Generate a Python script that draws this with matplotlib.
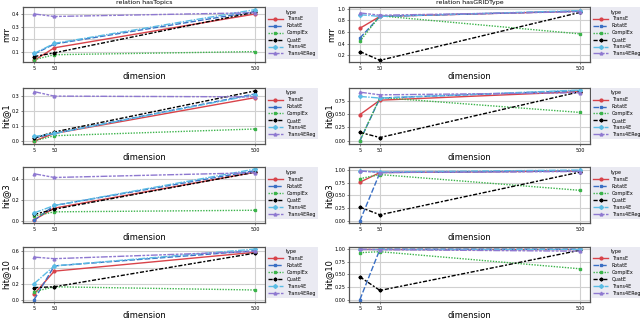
# -*- coding: utf-8 -*-
import matplotlib
matplotlib.use("Agg")
import matplotlib.pyplot as plt
import numpy as np

# data: dimension vs. metric, per model, two relations
DIMS = [5, 50, 500]
MODELS = ["TransE", "RotatE", "ComplEx", "QuatE", "Trans4E", "Trans4EReg"]
METRICS = ["mrr", "hit@1", "hit@3", "hit@10"]

# relation hasTopics
topics_mrr = {
    "TransE": [0.03, 0.13, 0.40],
    "RotatE": [0.08, 0.16, 0.42],
    "ComplEx": [0.035, 0.075, 0.10],
    "QuatE": [0.06, 0.09, 0.415],
    "Trans4E": [0.085, 0.165, 0.435],
    "Trans4EReg": [0.40, 0.38, 0.41],
}
topics_hit1 = {
    "TransE": [0.0, 0.05, 0.29],
    "RotatE": [0.02, 0.05, 0.315],
    "ComplEx": [0.0, 0.035, 0.08],
    "QuatE": [0.02, 0.06, 0.335],
    "Trans4E": [0.03, 0.05, 0.31],
    "Trans4EReg": [0.33, 0.30, 0.295],
}
topics_hit3 = {
    "TransE": [0.015, 0.125, 0.465],
    "RotatE": [0.01, 0.15, 0.48],
    "ComplEx": [0.05, 0.09, 0.105],
    "QuatE": [0.065, 0.115, 0.465],
    "Trans4E": [0.08, 0.15, 0.495],
    "Trans4EReg": [0.45, 0.415, 0.46],
}
topics_hit10 = {
    "TransE": [0.07, 0.355, 0.59],
    "RotatE": [0.0, 0.42, 0.61],
    "ComplEx": [0.10, 0.16, 0.12],
    "QuatE": [0.15, 0.16, 0.58],
    "Trans4E": [0.20, 0.42, 0.63],
    "Trans4EReg": [0.53, 0.51, 0.60],
}

# relation hasGRIDType
grid_mrr = {
    "TransE": [0.667, 0.87, 0.96],
    "RotatE": [0.50, 0.87, 0.96],
    "ComplEx": [0.445, 0.88, 0.57],
    "QuatE": [0.267, 0.117, 0.94],
    "Trans4E": [0.90, 0.87, 0.97],
    "Trans4EReg": [0.93, 0.89, 0.95],
}
grid_hit1 = {
    "TransE": [0.49, 0.76, 0.92],
    "RotatE": [0.0, 0.80, 0.94],
    "ComplEx": [0.0, 0.81, 0.53],
    "QuatE": [0.156, 0.06, 0.92],
    "Trans4E": [0.83, 0.80, 0.95],
    "Trans4EReg": [0.91, 0.86, 0.90],
}
grid_hit3 = {
    "TransE": [0.76, 0.95, 0.98],
    "RotatE": [0.0, 0.95, 0.98],
    "ComplEx": [0.83, 0.91, 0.60],
    "QuatE": [0.27, 0.12, 0.96],
    "Trans4E": [0.98, 0.96, 1.0],
    "Trans4EReg": [0.98, 0.95, 0.97],
}
grid_hit10 = {
    "TransE": [1.0, 1.0, 1.0],
    "RotatE": [0.0, 1.0, 1.0],
    "ComplEx": [0.93, 0.95, 0.61],
    "QuatE": [0.45, 0.18, 0.98],
    "Trans4E": [1.0, 1.0, 1.0],
    "Trans4EReg": [1.0, 0.99, 0.96],
}

COLORS = {
    "TransE": "#d8434a",
    "RotatE": "#3a6fc4",
    "ComplEx": "#3bb34a",
    "QuatE": "black",
    "Trans4E": "#5bbce4",
    "Trans4EReg": "#8e78d0",
}
MARKERS = {
    "TransE": "o",
    "RotatE": "s",
    "ComplEx": "s",
    "QuatE": "P",
    "Trans4E": "D",
    "Trans4EReg": "^",
}
DASHES = {
    "TransE": (None, None),
    "RotatE": (4, 1.5),
    "ComplEx": (1, 1),
    "QuatE": (3, 1.25, 1.5, 1.25),
    "Trans4E": (5, 1, 1, 1),
    "Trans4EReg": (5, 1, 2, 1, 2, 1),
}

ROWS = [(0.806, 0.172), (0.553, 0.174), (0.306, 0.174), (0.062, 0.172)]
COLS = [(0.036, 0.378), (0.545, 0.377)]

fig = plt.figure(figsize=(6.4, 3.22), dpi=100)

panels = [
    [topics_mrr, topics_hit1, topics_hit3, topics_hit10],
    [grid_mrr, grid_hit1, grid_hit3, grid_hit10],
]
titles = ["relation hasTopics", "relation hasGRIDType"]
yticks = [
    [[0.1, 0.2, 0.3, 0.4], [0.0, 0.1, 0.2, 0.3], [0.0, 0.2, 0.4], [0.0, 0.2, 0.4, 0.6]],
    [[0.2, 0.4, 0.6, 0.8, 1.0], [0.0, 0.25, 0.5, 0.75], [0.0, 0.25, 0.5, 0.75, 1.0],
     [0.0, 0.25, 0.5, 0.75, 1.0]],
]
ylims = [
    [(0.013, 0.455), (-0.02, 0.355), (-0.02, 0.51), (-0.03, 0.66)],
    [(0.08, 1.03), (-0.06, 0.99), (-0.05, 1.05), (-0.05, 1.05)],
]
yfmt = [["%.1f"] * 4, ["%.1f", "%.2f", "%.2f", "%.2f"]]

for c, (x0, w) in enumerate(COLS):
    for r, (y0, h) in enumerate(ROWS):
        ax = fig.add_axes([x0, y0, w, h])
        data = panels[c][r]
        for m in MODELS:
            line, = ax.plot(DIMS, data[m], color=COLORS[m], marker=MARKERS[m],
                            markersize=2.0, linewidth=1.0, label=m)
            if DASHES[m][0] is not None:
                line.set_dashes(DASHES[m])
        ax.set_xticks(DIMS)
        ax.set_xlim(-20, 522)
        ax.set_ylim(*ylims[c][r])
        ax.set_yticks(yticks[c][r])
        ax.yaxis.set_major_formatter(plt.FormatStrFormatter(yfmt[c][r]))
        ax.grid(True, color="#d0d0d0", linewidth=0.8)
        ax.set_axisbelow(True)
        ax.tick_params(labelsize=3.5, length=1.5, width=0.5, pad=1.2,
                       color="#555555")
        for s in ax.spines.values():
            s.set_color("#555555")
            s.set_linewidth(0.9)
        ax.set_ylabel(METRICS[r], fontsize=6, labelpad=0.5)
        ax.set_xlabel("dimension", fontsize=6, labelpad=0.5)
        if r == 0:
            ax.set_title(titles[c], fontsize=4.5, pad=2)
        leg = ax.legend(title="type", loc="upper left", bbox_to_anchor=(1.003, 1.0),
                        fontsize=3.5, title_fontsize=3.5, frameon=True,
                        facecolor="#eaeaf2", edgecolor="none", framealpha=1,
                        handlelength=3.0, borderpad=0.5, labelspacing=0.4,
                        borderaxespad=0)
        leg.get_frame().set_boxstyle("square", pad=0)

fig.savefig("out.png", dpi=100)
